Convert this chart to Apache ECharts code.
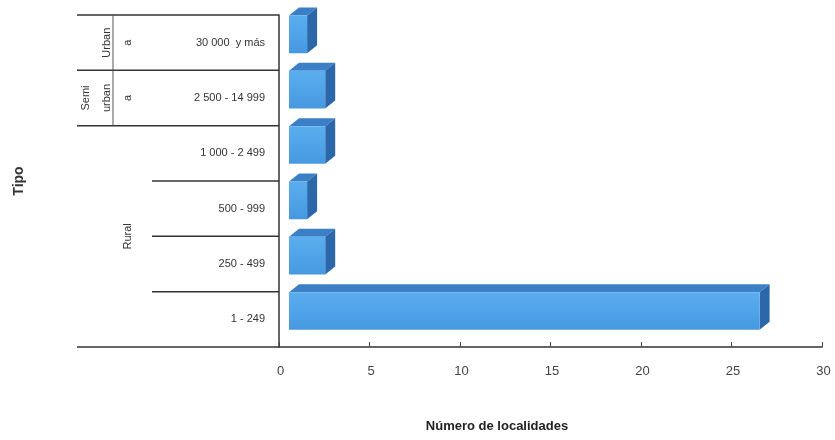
<!DOCTYPE html>
<html><head><meta charset="utf-8">
<script src="https://cdn.jsdelivr.net/npm/echarts@6/dist/echarts.min.js"></script>
<style>html,body{margin:0;padding:0;background:#fff}#c{width:835px;height:440px}</style>
</head><body><div id="c"></div>
<script>
const categories = ['30 000  y más', '2 500 - 14 999', '1 000 - 2 499', '500 - 999', '250 - 499', '1 - 249'];
const values = [1, 2, 2, 1, 2, 26];
const xMin = 0, xMax = 30, xStep = 5;
const groupLines = [['Urban', 'a'], ['Semi', 'urban', 'a'], ['Rural']];
const groupSpans = [[0, 0], [1, 1], [2, 5]];
const xTitle = 'Número de localidades';
const yTitle = 'Tipo';

(function () {
const FONT = 'Liberation Sans, Arial, sans-serif';
const chart = echarts.init(document.getElementById('c'), null, {renderer: 'canvas'});

const option = {
  backgroundColor: '#fff',
  animation: false,
  grid: {left: 279, right: 13, top: 15, bottom: 93, containLabel: false},
  xAxis: {
    type: 'value', min: xMin, max: xMax, interval: xStep,
    axisLine: {show: true, lineStyle: {color: '#333', width: 1.5}},
    axisTick: {show: true, inside: true, length: 5, lineStyle: {color: '#444'}},
    axisLabel: {margin: 18, color: '#444', fontSize: 13, fontFamily: FONT, padding: [0, 0, 0, 3]},
    splitLine: {show: false}
  },
  yAxis: {
    type: 'category', data: categories, inverse: true,
    name: yTitle, nameLocation: 'middle', nameGap: 253, nameRotate: 90,
    nameTextStyle: {fontSize: 14, fontWeight: 'bold', color: '#333', fontFamily: FONT},
    axisLine: {show: true, lineStyle: {color: '#333', width: 1.5}},
    axisTick: {show: false},
    axisLabel: {margin: 14, color: '#333', fontSize: 11, fontFamily: FONT}
  },
  series: [{
    type: 'custom',
    data: values.map((v, i) => [v, i]),
    encode: {x: 0, y: 1},
    renderItem: function (params, api) {
      const idx = api.value(1);
      const s = api.coord([0, idx]);
      const e = api.coord([api.value(0), idx]);
      const band = api.size([0, 1])[1];
      const ox = 10, dx = 10, dy = -8;
      const x0 = s[0] + ox, x1 = e[0] + ox;
      const yT = s[1] - band / 2 + 0.5, yB = yT + band * 0.68;
      return {
        type: 'group',
        children: [
          {type: 'polygon', shape: {points: [[x0, yT], [x1, yT], [x1 + dx, yT + dy], [x0 + dx, yT + dy]]},
           style: {fill: '#3b80c6'}},
          {type: 'polygon', shape: {points: [[x1, yT], [x1 + dx, yT + dy], [x1 + dx, yB + dy], [x1, yB]]},
           style: {fill: '#2c68a9'}},
          {type: 'rect', shape: {x: x0, y: yT, width: x1 - x0, height: yB - yT},
           style: {fill: new echarts.graphic.LinearGradient(0, 0, 0, 1, [
             {offset: 0, color: '#5aaeef'}, {offset: 1, color: '#4699e0'}])}}
        ]
      };
    }
  }]
};
chart.setOption(option);

function px(v, c) { return chart.convertToPixel({gridIndex: 0}, [v, c]); }
const c0 = px(0, 0), c1 = px(0, 1);
const band = c1[1] - c0[1];
const axisX = c0[0];
const rowTop = i => c0[1] + (i - 0.5) * band;
const bottomY = px(0, categories.length - 1)[1] + band / 2;
const lineStyle = {stroke: '#333', lineWidth: 1.5};
const g = [];
g.push({type: 'line', shape: {x1: 77, y1: bottomY, x2: axisX, y2: bottomY}, style: lineStyle});
for (let i = 0; i < categories.length; i++) {
  const y = rowTop(i);
  const left = i <= groupSpans[2][0] ? 77 : 152;
  g.push({type: 'line', shape: {x1: left, y1: y, x2: axisX, y2: y}, style: lineStyle});
}
g.push({type: 'line', shape: {x1: 113, y1: rowTop(0), x2: 113, y2: rowTop(2)}, style: {stroke: '#555', lineWidth: 1}});
groupLines.forEach((lines, gi) => {
  const yc = (px(0, groupSpans[gi][0])[1] + px(0, groupSpans[gi][1])[1]) / 2;
  lines.forEach((t, li) => {
    const x = 128 - (lines.length - 1 - li) * 21;
    g.push({type: 'text', x: x, y: yc, rotation: Math.PI / 2,
      style: {text: t, fontSize: 11, fill: '#333', fontFamily: FONT, align: 'center', verticalAlign: 'middle'}});
  });
});
g.push({type: 'text', x: 497, y: 426,
  style: {text: xTitle, fontSize: 13, fontWeight: 'bold', fill: '#222', fontFamily: FONT, align: 'center', verticalAlign: 'middle'}});
chart.setOption({graphic: g});
})();
</script></body></html>
